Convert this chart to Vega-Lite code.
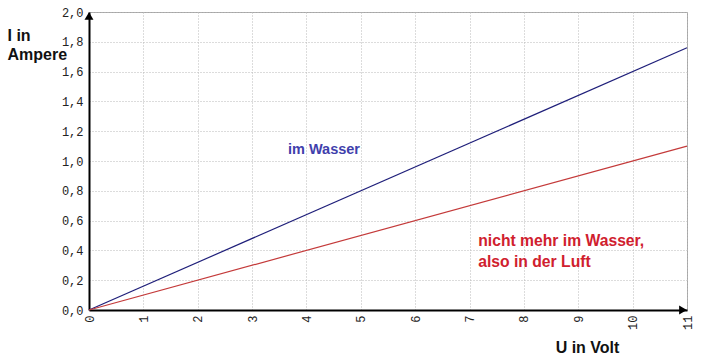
{
  "$schema": "https://vega.github.io/schema/vega-lite/v6.json",
  "width": 598,
  "height": 298,
  "autosize": {"type": "none"},
  "padding": {"left": 89, "top": 12, "right": 17, "bottom": 48},
  "background": "white",
  "config": {
    "view": {"stroke": "#a6a6a6", "strokeWidth": 1},
    "axis": {
      "labelFont": "Liberation Mono",
      "labelFontSize": 12,
      "labelColor": "#222222",
      "labelOverlap": false,
      "titleFont": "Liberation Sans",
      "titleFontSize": 16,
      "titleFontWeight": "bold",
      "titleColor": "#111111",
      "domainColor": "black",
      "domainWidth": 2,
      "ticks": false,
      "gridColor": "#b8b8b8",
      "gridDash": [1, 2],
      "gridWidth": 1
    }
  },
  "datasets": {
    "lines": [
      {"U": 0, "I": 0, "serie": "im Wasser"},
      {"U": 11, "I": 1.76, "serie": "im Wasser"},
      {"U": 0, "I": 0, "serie": "Luft"},
      {"U": 11, "I": 1.1, "serie": "Luft"}
    ],
    "labels": [
      {"U": 3.66, "I": 1.047, "text": "im Wasser", "serie": "im Wasser", "fs": "s"},
      {"U": 7.16, "I": 0.43, "text": "nicht mehr im Wasser,", "serie": "Luft", "fs": "l"},
      {"U": 7.16, "I": 0.29, "text": "also in der Luft", "serie": "Luft", "fs": "l"}
    ],
    "arrows": [
      {"U": 0, "I": 2.0, "dir": "up"},
      {"U": 11, "I": 0, "dir": "right"}
    ]
  },
  "encoding": {
    "x": {
      "field": "U", "type": "quantitative",
      "scale": {"domain": [0, 11], "nice": false},
      "axis": {
        "values": [0, 1, 2, 3, 4, 5, 6, 7, 8, 9, 10, 11],
        "labelAngle": 270,
        "labelPadding": 5,
        "labelOverlap": false,
        "title": "U in Volt",
        "titleX": 498,
        "titleY": 42,
        "titleAnchor": "middle",
        "titleAlign": "center",
        "titleBaseline": "alphabetic"
      }
    },
    "y": {
      "field": "I", "type": "quantitative",
      "scale": {"domain": [0, 2], "nice": false},
      "axis": {
        "values": [0, 0.2, 0.4, 0.6, 0.8, 1, 1.2, 1.4, 1.6, 1.8, 2],
        "labelExpr": "replace(format(datum.value, '.1f'), '.', ',')",
        "labelPadding": 6,
        "labelOverlap": false,
        "title": ["I in", "Ampere"],
        "titleAngle": 0,
        "titleAlign": "left",
        "titleBaseline": "alphabetic",
        "titleX": -82,
        "titleY": 28,
        "titleLineHeight": 19
      }
    }
  },
  "layer": [
    {
      "data": {"name": "lines"},
      "mark": {"type": "line", "strokeWidth": 1.2},
      "encoding": {
        "color": {
          "field": "serie", "type": "nominal",
          "scale": {"domain": ["im Wasser", "Luft"], "range": ["#1f1f7a", "#c43a3a"]},
          "legend": null
        }
      }
    },
    {
      "data": {"name": "labels"},
      "mark": {"type": "text", "align": "left", "baseline": "alphabetic", "font": "Liberation Sans", "fontWeight": "bold"},
      "encoding": {
        "text": {"field": "text"},
        "size": {
          "field": "fs", "type": "nominal",
          "scale": {"domain": ["s", "l"], "range": [14.5, 15.7]},
          "legend": null
        },
        "color": {
          "field": "serie", "type": "nominal",
          "scale": {"domain": ["im Wasser", "Luft"], "range": ["#4040ac", "#d0202e"]},
          "legend": null
        }
      }
    },
    {
      "data": {"name": "arrows"},
      "transform": [{"filter": "datum.dir === 'up'"}],
      "mark": {"type": "point", "shape": "triangle-up", "filled": true, "color": "black", "opacity": 1, "size": 80, "yOffset": 4}
    },
    {
      "data": {"name": "arrows"},
      "transform": [{"filter": "datum.dir === 'right'"}],
      "mark": {"type": "point", "shape": "triangle-right", "filled": true, "color": "black", "opacity": 1, "size": 80, "xOffset": -4}
    }
  ],
  "resolve": {"scale": {"color": "independent"}}
}
